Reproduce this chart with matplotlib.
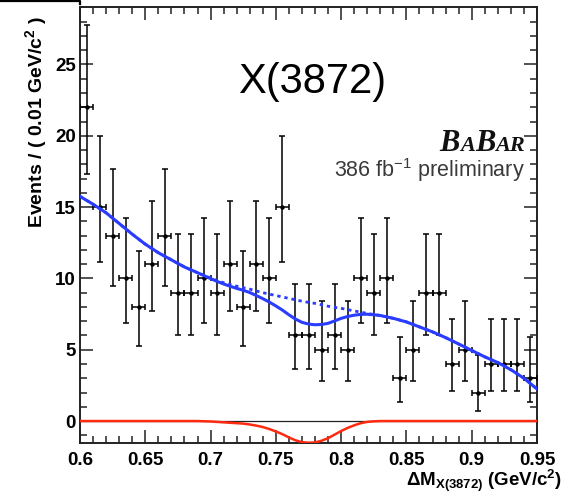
import math
import numpy as np
import matplotlib
matplotlib.use('Agg')
import matplotlib.pyplot as plt
from matplotlib.ticker import MultipleLocator
from matplotlib.lines import Line2D

# ---------------- data ----------------
bin_centers = [0.605, 0.615, 0.625, 0.635, 0.645, 0.655, 0.665, 0.675, 0.685, 0.695,
               0.705, 0.715, 0.725, 0.735, 0.745, 0.755, 0.765, 0.775, 0.785, 0.795,
               0.805, 0.815, 0.825, 0.835, 0.845, 0.855, 0.865, 0.875, 0.885, 0.895,
               0.905, 0.915, 0.925, 0.935, 0.945]
counts = [22, 15, 13, 10, 8, 11, 13, 9, 9, 10,
          9, 11, 8, 11, 10, 15, 6, 6, 5, 6,
          5, 10, 9, 10, 3, 5, 9, 9, 4, 5,
          2, 4, 4, 4, 3]
bin_half_width = 0.005

curve_x = [0.60, 0.61, 0.62, 0.63, 0.64, 0.65, 0.66, 0.67, 0.68, 0.69,
           0.70, 0.705, 0.71, 0.715, 0.72, 0.725, 0.73, 0.735, 0.74, 0.745,
           0.75, 0.755, 0.76, 0.765, 0.77, 0.775, 0.78, 0.785, 0.79, 0.795,
           0.80, 0.805, 0.81, 0.815, 0.82, 0.825, 0.83, 0.84, 0.85, 0.86,
           0.87, 0.88, 0.89, 0.90, 0.91, 0.92, 0.93, 0.94, 0.95]
background = [15.75, 15.2, 14.6, 13.85, 13.1, 12.4, 11.8, 11.3, 10.8, 10.4,
              10.02, 9.85, 9.7, 9.57, 9.45, 9.35, 9.25, 9.12, 9.0, 8.9,
              8.8, 8.7, 8.6, 8.5, 8.4, 8.32, 8.25, 8.15, 8.05, 7.97,
              7.9, 7.81, 7.72, 7.63, 7.55, 7.47, 7.4, 7.2, 6.95, 6.6,
              6.25, 5.85, 5.4, 4.95, 4.5, 4.1, 3.6, 3.0, 2.25]
signal = [0.0, 0.0, 0.0, 0.0, 0.0, 0.0, 0.0, 0.0, 0.0, 0.0,
          -0.03, -0.06, -0.09, -0.12, -0.15, -0.18, -0.24, -0.32, -0.42, -0.56,
          -0.73, -0.92, -1.15, -1.35, -1.48, -1.52, -1.5, -1.38, -1.2, -0.95,
          -0.7, -0.48, -0.3, -0.15, -0.06, -0.02, 0.0, 0.0, 0.0, 0.0,
          0.0, 0.0, 0.0, 0.0, 0.0, 0.0, 0.0, 0.0, 0.0]

xticks_major = [0.6, 0.65, 0.7, 0.75, 0.8, 0.85, 0.9, 0.95]
xtick_labels = ['0.6', '0.65', '0.7', '0.75', '0.8', '0.85', '0.9', '0.95']
yticks_major = [0, 5, 10, 15, 20, 25]
ytick_labels = ['0', '5', '10', '15', '20', '25']


# Poisson (Garwood 68%) asymmetric errors
def _pcdf(n, mu):
    s, term = 0.0, math.exp(-mu)
    for k in range(n + 1):
        if k > 0:
            term *= mu / k
        s += term
    return s


def _solve(n, target):
    lo, hi = 0.0, 100.0
    for _ in range(200):
        mid = 0.5 * (lo + hi)
        if _pcdf(n, mid) > target:
            lo = mid
        else:
            hi = mid
    return 0.5 * (lo + hi)


alpha = 0.158655
err_lo = [n - (_solve(n - 1, 1 - alpha) if n > 0 else 0.0) for n in counts]
err_hi = [_solve(n, alpha) - n for n in counts]

# ---------------- figure ----------------
W, H = 570, 493
plt.rcParams['font.family'] = ['Liberation Sans', 'DejaVu Sans']
plt.rcParams['mathtext.fontset'] = 'custom'
plt.rcParams['mathtext.default'] = 'regular'

fig = plt.figure(figsize=(W / 100, H / 100), dpi=100)
ax = fig.add_axes([80 / W, 1 - 443.3 / H, (537 - 80) / W, (443.3 - 6.7) / H])

ax.set_xlim(0.6, 0.95)
ax.set_ylim(-1.56, 29.05)

ax.axhline(0, color='#222222', lw=0.9, zorder=2)

ax.errorbar(bin_centers, counts, yerr=[err_lo, err_hi],
            xerr=bin_half_width, fmt='o', ms=2.2, color='black',
            ecolor='black', elinewidth=1.1, capsize=2.5, capthick=1.1, zorder=3)

bkg = np.array(background)
total = bkg + np.array(signal)
ax.plot(curve_x, bkg, color='#2a3cff', lw=2.0, ls=(0, (1.2, 1.4)), zorder=4)
ax.plot(curve_x, total, color='#2a3cff', lw=2.2, zorder=5)
ax.plot(curve_x, signal, color='#ff2a10', lw=1.8, zorder=5)

ax.xaxis.set_major_locator(plt.FixedLocator(xticks_major))
ax.set_xticklabels(xtick_labels)
ax.xaxis.set_minor_locator(MultipleLocator(0.01))
ax.yaxis.set_major_locator(plt.FixedLocator(yticks_major))
ax.set_yticklabels(ytick_labels)
ax.yaxis.set_minor_locator(MultipleLocator(1))

ax.tick_params(which='both', direction='in', top=True, right=True,
               color='#222222', width=1.1)
ax.tick_params(which='major', length=9.5)
ax.tick_params(which='minor', length=5)
ax.tick_params(axis='x', which='major', pad=6, labelsize=13.5)
ax.tick_params(axis='y', which='major', pad=3, labelsize=13.5)
for lab in ax.get_xticklabels() + ax.get_yticklabels():
    lab.set_fontweight('bold')
for sp in ax.spines.values():
    sp.set_linewidth(1.4)
    sp.set_color('#222222')

# labels
fig.text(36 / W, 1 - 16 / H, 'Events / ( 0.01 GeV/c$^{2}$ )', rotation=90,
         ha='center', va='top', fontsize=14, fontweight='bold')
fig.text(562 / W, 1 - 486 / H, 'ΔM$_{X(3872)}$ (GeV/c$^{2}$)',
         ha='right', va='baseline', fontsize=13.5, fontweight='bold')

fig.text(238 / W, 1 - 93 / H, 'X(3872)', ha='left', va='baseline', fontsize=30)
fig.text(525 / W, 1 - 177 / H, '386 fb$^{-1}$ preliminary', ha='right',
         va='baseline', fontsize=15.5, color='#3a3a3a')

# BaBar logo, right aligned at x=525 px
renderer = fig.canvas.get_renderer()
pieces = [('B', 22), ('A', 16), ('B', 22), ('AR', 16)]
texts, widths = [], []
for s, fs in pieces:
    t = fig.text(0, 1 - 151 / H, s, fontsize=fs, family='Liberation Serif',
                 style='italic', weight='bold', ha='left', va='baseline',
                 color='#111111')
    texts.append(t)
    widths.append(t.get_window_extent(renderer=renderer).width)
x_right = 525.0
gap = 0.0
xp = x_right - sum(widths) - gap * (len(pieces) - 1)
for t, w in zip(texts, widths):
    t.set_x(xp / W)
    xp += w + gap

# frame remnant at top-left corner
fig.add_artist(Line2D([0, 80 / W, 80 / W], [1 - 1.2 / H, 1 - 1.2 / H, 1 - 4 / H],
                      color='black', lw=1.6, transform=fig.transFigure))

fig.savefig('out.png', dpi=100)
